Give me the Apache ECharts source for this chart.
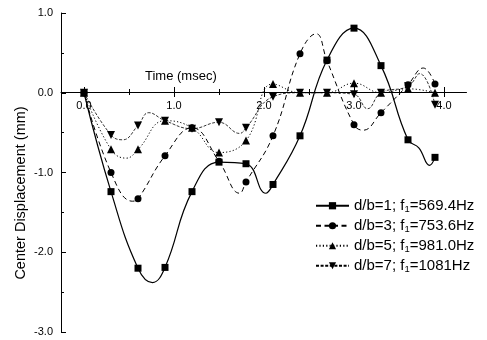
<!DOCTYPE html>
<html><head><meta charset="utf-8">
<script src="https://cdn.jsdelivr.net/npm/echarts@6/dist/echarts.min.js"></script>
<style>html,body{margin:0;padding:0;background:#fff}#c{width:487px;height:340px}</style>
</head><body><div id="c"></div>
<script>
// sample times (msec), markers are drawn at these
const times = [0, 0.3, 0.6, 0.9, 1.2, 1.5, 1.8, 2.1, 2.4, 2.7, 3.0, 3.3, 3.6, 3.9];
// center displacement (mm) per case
const disp1 = [0, -1.24, -2.20, -2.19, -1.24, -0.87, -0.89, -1.15, -0.54, 0.41, 0.81, 0.34, -0.59, -0.81];
const disp3 = [0, -1.00, -1.33, -0.79, -0.44, -0.86, -1.12, -0.54, 0.49, 0.40, -0.40, -0.25, 0.10, 0.11];
const disp5 = [0, -0.71, -0.71, -0.35, -0.44, -0.75, -0.60, 0.11, 0.00, 0.00, 0.12, 0.00, 0.05, 0.00];
const disp7 = [0, -0.53, -0.41, -0.35, -0.45, -0.37, -0.44, -0.05, 0.00, 0.00, -0.02, 0.00, 0.08, -0.15];
// extra points (turning points)
const curve1 = [[0.76, -2.38], [2.02, -1.26], [3.72, -0.69], [3.84, -0.91]];
const curve3 = [[0.54, -1.36], [1.73, -1.26], [2.58, 0.74], [3.10, -0.47], [3.77, 0.31]];
const curve5 = [[0.47, -0.82]];
const curve7 = [[0.43, -0.59], [0.72, -0.25], [1.73, -0.51], [3.15, -0.20], [3.73, 0.24]];
// legend text parts: before subscript, subscript, after
const legendParts = [
  ['d/b=1; f', '1', '=569.4Hz'],
  ['d/b=3; f', '1', '=753.6Hz'],
  ['d/b=5; f', '1', '=981.0Hz'],
  ['d/b=7; f', '1', '=1081Hz']
];
const xTitle = 'Time (msec)';
const yTitle = 'Center Displacement (mm)';

const FONT = 'Liberation Sans, Arial, sans-serif';

function build(vals, extra) {
  const pts = times.map((t, i) => ({ value: [t, vals[i]] }));
  extra.forEach(p => pts.push({ value: p, symbol: 'none' }));
  pts.sort((a, b) => a.value[0] - b.value[0]);
  return pts;
}
const names = legendParts.map(p => p.join(''));
const styles = [
  { symbol: 'rect', size: 7, type: 'solid', width: 1.2 },
  { symbol: 'circle', size: 7, type: [5, 3.5], width: 1 },
  { symbol: 'triangle', size: 8, type: [1.2, 2.2], width: 1 },
  { symbol: 'path://M0,0L10,0L5,9Z', size: 8, type: [3, 1.6], width: 0.8 }
];
const datasets = [build(disp1, curve1), build(disp3, curve3), build(disp5, curve5), build(disp7, curve7)];

// x axis drawn in a band grid whose bottom edge lies at displacement 0
function tickAx(inside, showLabel) {
  return {
    type: 'value', gridIndex: 1, min: 0, max: 4, interval: 1, position: 'bottom',
    axisLine: { show: false, onZero: false },
    axisTick: { show: true, inside: inside, length: 5, lineStyle: { color: '#000', width: 1 } },
    minorTick: { show: true, splitNumber: 2, length: 3, lineStyle: { color: '#000', width: 1 } },
    axisLabel: showLabel ? { show: true, margin: 8, color: '#000', fontSize: 11, fontFamily: FONT,
      formatter: v => v.toFixed(1) } : { show: false },
    splitLine: { show: false }, minorSplitLine: { show: false }
  };
}
const hiddenY = g => ({ type: 'value', gridIndex: g, min: -3, max: 1, show: false, splitLine: { show: false } });

const chart = echarts.init(document.getElementById('c'), null, { renderer: 'canvas' });
chart.setOption({
  animation: false,
  backgroundColor: '#fff',
  title: { text: xTitle, left: 140, top: 65, textStyle: { fontSize: 13, fontWeight: 'normal', color: '#000', fontFamily: FONT } },
  grid: [
    { left: 84, right: 43, top: 13, bottom: 8, outerBoundsMode: 'none' },      // data
    { left: 84, right: 43, top: 13, height: 79, outerBoundsMode: 'none' },     // x ticks band
    { left: 61, right: 20.5, top: 13, height: 79, outerBoundsMode: 'none' },   // x axis line
    { left: 61, right: 20.5, top: 93, bottom: 47, outerBoundsMode: 'none' }    // y name placement
  ],
  xAxis: [
    { type: 'value', gridIndex: 0, min: 0, max: 4, show: false, splitLine: { show: false } },
    tickAx(false, true),
    tickAx(true, false),
    { type: 'value', gridIndex: 2, min: -0.25, max: 4.25, position: 'bottom',
      axisLine: { show: true, onZero: false, lineStyle: { color: '#000', width: 1 } },
      axisTick: { show: false }, axisLabel: { show: false }, splitLine: { show: false } },
    { type: 'value', gridIndex: 3, min: 0, max: 4, show: false, splitLine: { show: false } }
  ],
  yAxis: [
    {
      type: 'value', gridIndex: 0, min: -3, max: 1, interval: 1, offset: 23,
      axisLine: { show: true, onZero: false, lineStyle: { color: '#000', width: 1 } },
      axisTick: { show: true, inside: true, length: 5, lineStyle: { color: '#000' } },
      minorTick: { show: true, splitNumber: 2, length: 3, lineStyle: { color: '#000' } },
      axisLabel: { margin: 8, color: '#000', fontSize: 11, fontFamily: FONT, formatter: v => v.toFixed(1) },
      splitLine: { show: false }, minorSplitLine: { show: false }
    },
    hiddenY(1),
    hiddenY(2),
    {
      type: 'value', gridIndex: 3, min: 0, max: 1, position: 'left',
      name: yTitle, nameLocation: 'middle', nameGap: 33,
      nameTextStyle: { fontSize: 14.5, color: '#000', fontFamily: FONT },
      axisLine: { show: false, onZero: false }, axisTick: { show: false }, axisLabel: { show: false },
      splitLine: { show: false }
    }
  ],
  legend: {
    orient: 'vertical', left: 310, top: 192, itemWidth: 33, itemHeight: 9, itemGap: 3,
    data: names,
    formatter: name => { const p = legendParts[names.indexOf(name)]; return '{n|' + p[0] + '}{s|' + p[1] + '}{n|' + p[2] + '}'; },
    textStyle: {
      color: '#000', fontFamily: FONT,
      rich: {
        n: { fontSize: 15, color: '#000', fontFamily: FONT, lineHeight: 16.5 },
        s: { fontSize: 9.5, color: '#000', fontFamily: FONT, lineHeight: 16.5, verticalAlign: 'bottom', padding: [7, 0, 0, 0] }
      }
    }
  },
  series: datasets.map((d, i) => ({
    name: names[i], type: 'line', xAxisIndex: 0, yAxisIndex: 0, data: d, smooth: 0.45,
    symbol: styles[i].symbol, symbolSize: styles[i].size, showAllSymbol: true,
    itemStyle: { color: '#000' },
    lineStyle: { color: '#000', width: styles[i].width, type: styles[i].type },
    clip: false,
    z: 10 - i
  }))
});
</script></body></html>
